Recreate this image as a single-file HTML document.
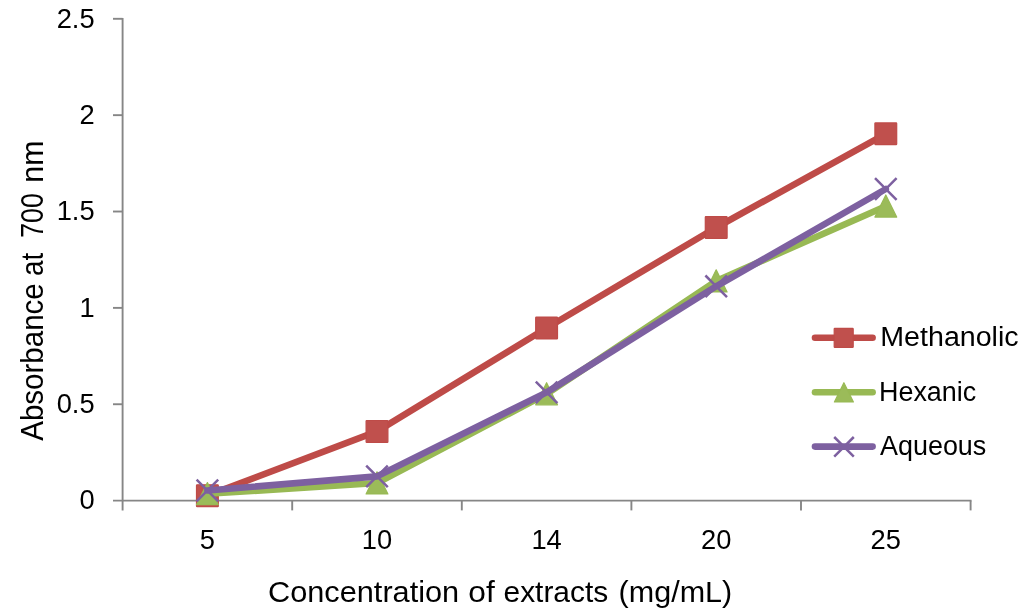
<!DOCTYPE html>
<html><head><meta charset="utf-8"><title>chart</title>
<style>html,body{margin:0;padding:0;background:#fff;}svg{display:block;will-change:transform;}text{font-family:"Liberation Sans",sans-serif;fill:#000;}</style></head><body>
<svg width="1024" height="616" viewBox="0 0 1024 616">
<rect width="1024" height="616" fill="#fff"/>
<g stroke="#868686" stroke-width="1.9" fill="none">
<line x1="122.6" y1="17.900000000000002" x2="122.6" y2="510.4"/>
<line x1="113" y1="500.6" x2="971.5" y2="500.6"/>
<line x1="113" y1="404.24" x2="122.6" y2="404.24"/>
<line x1="113" y1="307.88" x2="122.6" y2="307.88"/>
<line x1="113" y1="211.52" x2="122.6" y2="211.52"/>
<line x1="113" y1="115.16" x2="122.6" y2="115.16"/>
<line x1="113" y1="18.80" x2="122.6" y2="18.80"/>
<line x1="292.20" y1="500.6" x2="292.20" y2="510.4"/>
<line x1="461.80" y1="500.6" x2="461.80" y2="510.4"/>
<line x1="631.40" y1="500.6" x2="631.40" y2="510.4"/>
<line x1="801.00" y1="500.6" x2="801.00" y2="510.4"/>
<line x1="970.60" y1="500.6" x2="970.60" y2="510.4"/>
</g>
<polyline points="207.4,495.7 377.0,431.4 546.6,328.0 716.2,227.5 885.8,133.8" fill="none" stroke="#BE4B48" stroke-width="6.6" stroke-linejoin="round" stroke-linecap="round"/>
<rect x="196.50" y="484.80" width="21.8" height="21.8" rx="0.6" fill="#C0504D" stroke="#BE4B48" stroke-width="1.2"/>
<rect x="366.10" y="420.50" width="21.8" height="21.8" rx="0.6" fill="#C0504D" stroke="#BE4B48" stroke-width="1.2"/>
<rect x="535.70" y="317.10" width="21.8" height="21.8" rx="0.6" fill="#C0504D" stroke="#BE4B48" stroke-width="1.2"/>
<rect x="705.30" y="216.60" width="21.8" height="21.8" rx="0.6" fill="#C0504D" stroke="#BE4B48" stroke-width="1.2"/>
<rect x="874.90" y="122.90" width="21.8" height="21.8" rx="0.6" fill="#C0504D" stroke="#BE4B48" stroke-width="1.2"/>
<polyline points="207.4,493.8 377.0,483.0 546.6,393.9 716.2,281.0 885.8,206.2" fill="none" stroke="#98B954" stroke-width="6.6" stroke-linejoin="round" stroke-linecap="round"/>
<polygon points="207.40,482.60 218.30,504.70 196.50,504.70" fill="#9BBB59" stroke="#98B954" stroke-width="1.2" stroke-linejoin="round"/>
<polygon points="377.00,471.80 387.90,493.90 366.10,493.90" fill="#9BBB59" stroke="#98B954" stroke-width="1.2" stroke-linejoin="round"/>
<polygon points="546.60,382.70 557.50,404.80 535.70,404.80" fill="#9BBB59" stroke="#98B954" stroke-width="1.2" stroke-linejoin="round"/>
<polygon points="716.20,269.80 727.10,291.90 705.30,291.90" fill="#9BBB59" stroke="#98B954" stroke-width="1.2" stroke-linejoin="round"/>
<polygon points="885.80,195.00 896.70,217.10 874.90,217.10" fill="#9BBB59" stroke="#98B954" stroke-width="1.2" stroke-linejoin="round"/>
<polyline points="207.4,490.5 377.0,476.4 546.6,392.4 716.2,286.3 885.8,189.0" fill="none" stroke="#7D60A0" stroke-width="6.6" stroke-linejoin="round" stroke-linecap="round"/>
<path d="M196.60 479.70L218.20 501.30M196.60 501.30L218.20 479.70" stroke="#7D60A0" stroke-width="2.5" fill="none"/>
<path d="M366.20 465.60L387.80 487.20M366.20 487.20L387.80 465.60" stroke="#7D60A0" stroke-width="2.5" fill="none"/>
<path d="M535.80 381.60L557.40 403.20M535.80 403.20L557.40 381.60" stroke="#7D60A0" stroke-width="2.5" fill="none"/>
<path d="M705.40 275.50L727.00 297.10M705.40 297.10L727.00 275.50" stroke="#7D60A0" stroke-width="2.5" fill="none"/>
<path d="M875.00 178.20L896.60 199.80M875.00 199.80L896.60 178.20" stroke="#7D60A0" stroke-width="2.5" fill="none"/>
<text x="94.6" y="509.30" font-size="27.3" text-anchor="end">0</text>
<text x="94.6" y="412.94" font-size="27.3" text-anchor="end">0.5</text>
<text x="94.6" y="316.58" font-size="27.3" text-anchor="end">1</text>
<text x="94.6" y="220.22" font-size="27.3" text-anchor="end">1.5</text>
<text x="94.6" y="123.86" font-size="27.3" text-anchor="end">2</text>
<text x="94.6" y="27.50" font-size="27.3" text-anchor="end">2.5</text>
<text x="207.40" y="548.5" font-size="27.3" text-anchor="middle">5</text>
<text x="377.00" y="548.5" font-size="27.3" text-anchor="middle">10</text>
<text x="546.60" y="548.5" font-size="27.3" text-anchor="middle">14</text>
<text x="716.20" y="548.5" font-size="27.3" text-anchor="middle">20</text>
<text x="885.80" y="548.5" font-size="27.3" text-anchor="middle">25</text>
<line x1="815" y1="337.7" x2="872.6" y2="337.7" stroke="#BE4B48" stroke-width="6.6" stroke-linecap="round"/>
<rect x="834.20" y="328.30" width="19.0" height="19.0" rx="0.6" fill="#C0504D" stroke="#BE4B48" stroke-width="1.2"/>
<line x1="815" y1="392.3" x2="872.6" y2="392.3" stroke="#98B954" stroke-width="6.6" stroke-linecap="round"/>
<polygon points="843.90,382.70 853.40,402.00 834.40,402.00" fill="#9BBB59" stroke="#98B954" stroke-width="1.2" stroke-linejoin="round"/>
<line x1="815" y1="446.6" x2="872.6" y2="446.6" stroke="#7D60A0" stroke-width="6.6" stroke-linecap="round"/>
<path d="M834.20 437.00L853.80 456.60M834.20 456.60L853.80 437.00" stroke="#7D60A0" stroke-width="2.5" fill="none"/>
<text x="268.0" y="602.0" font-size="29.8" textLength="191.21" lengthAdjust="spacingAndGlyphs">Concentration</text>
<text x="468.3" y="602.0" font-size="29.8" textLength="26.4" lengthAdjust="spacingAndGlyphs">of</text>
<text x="503.5" y="602.0" font-size="29.8" textLength="104.71" lengthAdjust="spacingAndGlyphs">extracts</text>
<text x="618.6" y="602.0" font-size="29.8" textLength="113.62" lengthAdjust="spacingAndGlyphs">(mg/mL)</text>
<text transform="translate(42.8,440.8) rotate(-90)" font-size="31.6" textLength="157.6" lengthAdjust="spacingAndGlyphs">Absorbance</text>
<text transform="translate(42.8,276.0) rotate(-90)" font-size="31.6" textLength="23.29" lengthAdjust="spacingAndGlyphs">at</text>
<text transform="translate(42.8,237.7) rotate(-90)" font-size="31.6" textLength="44.48" lengthAdjust="spacingAndGlyphs">700</text>
<text transform="translate(42.8,182.7) rotate(-90)" font-size="31.6" textLength="42.08" lengthAdjust="spacingAndGlyphs">nm</text>
<text x="880.3" y="346.0" font-size="27.0" textLength="138.31" lengthAdjust="spacingAndGlyphs">Methanolic</text>
<text x="879.0" y="400.8" font-size="27.0" textLength="97.22" lengthAdjust="spacingAndGlyphs">Hexanic</text>
<text x="880.0" y="455.2" font-size="27.0" textLength="106.3" lengthAdjust="spacingAndGlyphs">Aqueous</text>
</svg></body></html>
